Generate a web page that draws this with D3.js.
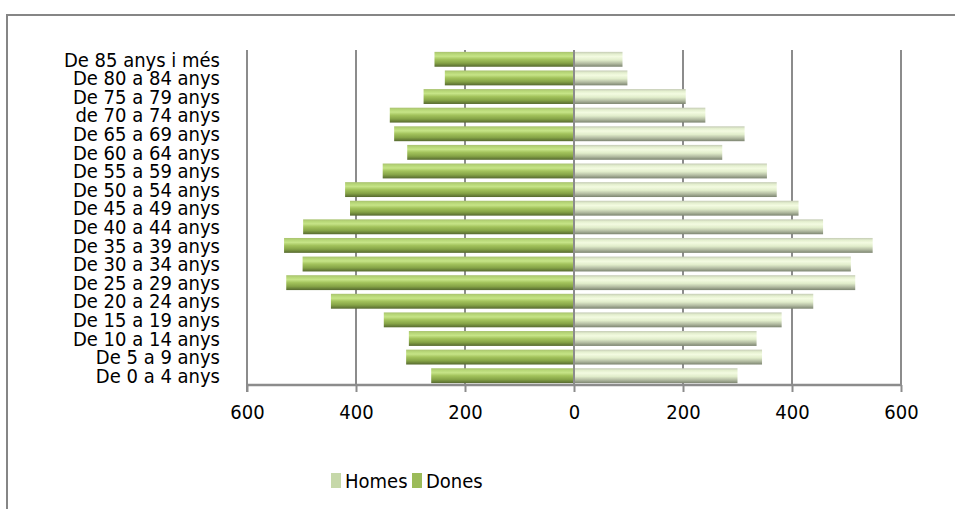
<!DOCTYPE html>
<html><head><meta charset="utf-8">
<script src="https://cdn.jsdelivr.net/npm/d3@7"></script>
<style>
html,body{margin:0;padding:0;background:#fff;}
svg text{font-family:"DejaVu Sans Condensed","Liberation Sans Narrow","Open Sans",sans-serif;fill:#000;}
</style></head>
<body>
<svg id="chart" width="955" height="509"></svg>
<script>
const categories = ["De 85 anys i més","De 80 a 84 anys","De 75 a 79 anys","de 70 a 74 anys","De 65 a 69 anys","De 60 a 64 anys","De 55 a 59 anys","De 50 a 54 anys","De 45 a 49 anys","De 40 a 44 anys","De 35 a 39 anys","De 30 a 34 anys","De 25 a 29 anys","De 20 a 24 anys","De 15 a 19 anys","De 10 a 14 anys","De 5 a 9 anys","De 0 a 4 anys"];
const homes = [89,98,205,241,313,272,354,372,412,457,548,508,516,439,381,335,345,300];
const dones = [256,237,276,338,330,306,351,420,411,497,532,498,528,446,349,303,308,262];
const tickValues = [-600,-400,-200,0,200,400,600];
const seriesNames = ["Homes","Dones"];

const svg = d3.select("#chart");
const margin = {left:247, right:54, top:50, bottom:124};
const W = 955, H = 509;

// outer chart border
svg.append("rect").attr("x",7).attr("y",15).attr("width",W+10).attr("height",H+10)
  .attr("fill","none").attr("stroke","#868686").attr("stroke-width",2);

const x = d3.scaleLinear().domain([-600,600]).range([margin.left, W-margin.right]);
const y = d3.scaleBand().domain(categories).range([margin.top, H-margin.bottom]).paddingInner(0.2).paddingOuter(0.1);

const defs = svg.append("defs");
function grad(id, stops){
  const g = defs.append("linearGradient").attr("id",id).attr("x1",0).attr("y1",0).attr("x2",0).attr("y2",1);
  stops.forEach(s=>g.append("stop").attr("offset",s[0]).attr("stop-color",s[1]));
}
grad("gD",[[0,"#a9c26f"],[0.15,"#b8d878"],[0.3,"#c6e487"],[0.5,"#a3c35c"],[0.75,"#86a447"],[1,"#56692f"]]);
grad("gH",[[0,"#c4cbb4"],[0.15,"#e4efcf"],[0.32,"#f3fbe1"],[0.55,"#e1edcb"],[0.78,"#b3bca2"],[1,"#7d8571"]]);

// gridlines
svg.append("g").selectAll("line").data(tickValues).join("line")
  .attr("x1",d=>x(d)).attr("x2",d=>x(d)).attr("y1",margin.top).attr("y2",H-margin.bottom)
  .attr("stroke","#8c8c8c").attr("stroke-width",2);

// bars
svg.append("g").selectAll("rect").data(categories).join("rect")
  .attr("x",(d,i)=>x(-dones[i])).attr("y",d=>y(d))
  .attr("width",(d,i)=>x(0)-x(-dones[i])).attr("height",y.bandwidth())
  .attr("fill","url(#gD)");
svg.append("g").selectAll("rect").data(categories).join("rect")
  .attr("x",x(0)).attr("y",d=>y(d))
  .attr("width",(d,i)=>x(homes[i])-x(0)).attr("height",y.bandwidth())
  .attr("fill","url(#gH)");

// center axis
svg.append("line").attr("x1",x(0)).attr("x2",x(0)).attr("y1",margin.top).attr("y2",H-margin.bottom)
  .attr("stroke","#8c8c8c").attr("stroke-width",2);

// bottom axis
const xAxis = d3.axisBottom(x).tickValues(tickValues).tickFormat(d=>Math.abs(d)).tickSize(7).tickPadding(13);
const gx = svg.append("g").attr("transform",`translate(0,${H-margin.bottom})`).call(xAxis);
gx.select(".domain").attr("stroke","#8c8c8c").attr("stroke-width",2.5).attr("d",`M${x(-600)},0H${x(600)}`);
gx.selectAll(".tick line").attr("stroke","#8c8c8c").attr("stroke-width",2);
gx.selectAll(".tick text").attr("font-size",20).attr("fill","#000").style("font-family",'"DejaVu Sans Condensed","Open Sans",sans-serif');
// left axis line
svg.append("line").attr("x1",x(-600)).attr("x2",x(-600)).attr("y1",margin.top).attr("y2",H-margin.bottom+7)
  .attr("stroke","#8c8c8c").attr("stroke-width",2);

// category labels
svg.append("g").selectAll("text").data(categories).join("text")
  .attr("x",220).attr("y",d=>y(d)+y.bandwidth()/2)
  .attr("dy","0.36em").attr("text-anchor","end").attr("font-size",20)
  .text(d=>d);

// legend
const legColors = ["#c6d8a9","#9bbb59"];
const legX = [331,412];
const lg = svg.append("g");
seriesNames.forEach((s,i)=>{
  lg.append("rect").attr("x",legX[i]).attr("y",473).attr("width",10).attr("height",15).attr("fill",legColors[i]);
  lg.append("text").attr("x",legX[i]+14).attr("y",481).attr("dy","0.36em").attr("font-size",20).text(s);
});
</script>
</body></html>
